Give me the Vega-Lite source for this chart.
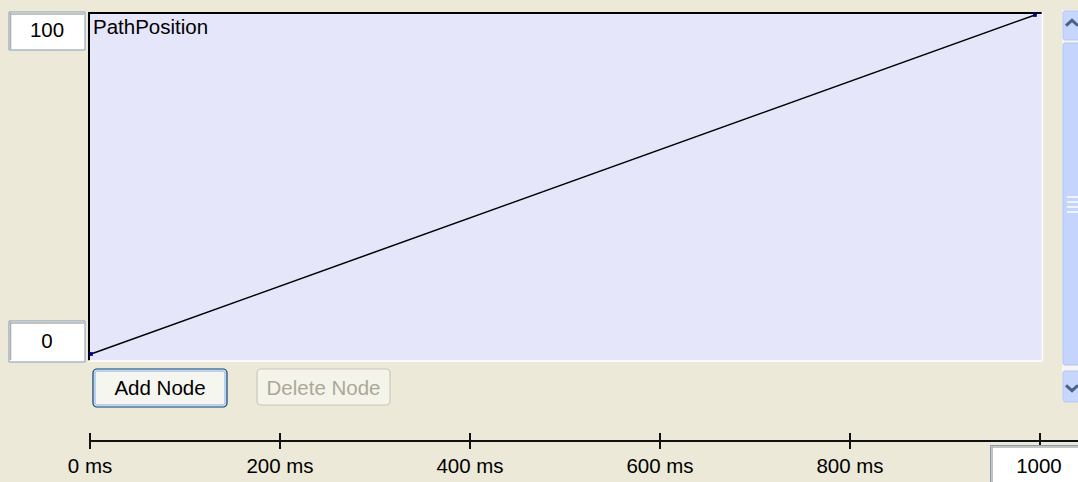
{
  "$schema": "https://vega.github.io/schema/vega-lite/v6.json",
  "width": 1078,
  "height": 482,
  "autosize": {"type": "none"},
  "padding": 0,
  "background": "#ECE9D8",
  "config": {
    "view": {"stroke": null},
    "axis": {"disable": true},
    "text": {"font": "Liberation Sans", "fontSize": 20.5, "color": "#000000"}
  },
  "resolve": {"scale": {"x": "independent"}},
  "layer": [
    {
      "data": {"values": [{"widget": "curve editor"}]},
      "layer": [
        {"mark": {"type": "rect", "fill": "#E6E6FA"},
         "encoding": {"x": {"datum": -2.105, "type": "quantitative", "scale": {"domain": [-94.74, 1040], "nice": false, "zero": false}, "axis": null}, "x2": {"datum": 1002.1},
                      "y": {"datum": 100.88, "type": "quantitative", "scale": {"domain": [-37.76, 104.42], "nice": false, "zero": false}, "axis": null}, "y2": {"datum": -2.065}}},
        {"mark": {"type": "rule", "color": "#000000", "strokeWidth": 2},
         "encoding": {"x": {"datum": -1.053, "type": "quantitative"}, "x2": {"datum": 1002.1}, "y": {"datum": 100.59, "type": "quantitative"}}},
        {"mark": {"type": "rule", "color": "#000000", "strokeWidth": 2},
         "encoding": {"x": {"datum": -1.053, "type": "quantitative"}, "y": {"datum": 100.88, "type": "quantitative"}, "y2": {"datum": -2.065}}},
        {"mark": {"type": "rule", "color": "#FFFFFF", "strokeWidth": 1.5},
         "encoding": {"x": {"datum": 1002.6, "type": "quantitative"}, "y": {"datum": 100.88, "type": "quantitative"}, "y2": {"datum": -2.065}}},
        {"mark": {"type": "rule", "color": "#FFFFFF", "strokeWidth": 1.5},
         "encoding": {"x": {"datum": -2.105, "type": "quantitative"}, "x2": {"datum": 1002.6}, "y": {"datum": -2.065, "type": "quantitative"}}},
        {"mark": {"type": "text", "align": "left", "baseline": "alphabetic", "text": "PathPosition"},
         "encoding": {"x": {"datum": 3.158, "type": "quantitative"}, "y": {"datum": 94.4, "type": "quantitative"}}},

        {"mark": {"type": "rect", "fill": "#FFFFFF", "stroke": "#7F9DB9", "strokeWidth": 1},
         "encoding": {"x": {"datum": -85.26, "type": "quantitative"}, "x2": {"datum": -5.263}, "y": {"datum": 100.88, "type": "quantitative"}, "y2": {"datum": 89.68}}},
        {"mark": {"type": "rule", "color": "#B0AFA8", "strokeWidth": 1.5},
         "encoding": {"x": {"datum": -84.21, "type": "quantitative"}, "x2": {"datum": -6.316}, "y": {"datum": 100.29, "type": "quantitative"}}},
        {"mark": {"type": "rule", "color": "#B0AFA8", "strokeWidth": 1.5},
         "encoding": {"x": {"datum": -83.68, "type": "quantitative"}, "y": {"datum": 100.59, "type": "quantitative"}, "y2": {"datum": 89.97}}},
        {"mark": {"type": "text", "align": "center", "baseline": "middle", "text": "100"},
         "encoding": {"x": {"datum": -45.26, "type": "quantitative"}, "y": {"datum": 95.28, "type": "quantitative"}}},

        {"mark": {"type": "rect", "fill": "#FFFFFF", "stroke": "#7F9DB9", "strokeWidth": 1},
         "encoding": {"x": {"datum": -85.26, "type": "quantitative"}, "x2": {"datum": -5.263}, "y": {"datum": 9.735, "type": "quantitative"}, "y2": {"datum": -2.36}}},
        {"mark": {"type": "rule", "color": "#B0AFA8", "strokeWidth": 1.5},
         "encoding": {"x": {"datum": -84.21, "type": "quantitative"}, "x2": {"datum": -6.316}, "y": {"datum": 9.14, "type": "quantitative"}}},
        {"mark": {"type": "rule", "color": "#B0AFA8", "strokeWidth": 1.5},
         "encoding": {"x": {"datum": -83.68, "type": "quantitative"}, "y": {"datum": 9.44, "type": "quantitative"}, "y2": {"datum": -1.77}}},
        {"mark": {"type": "text", "align": "center", "baseline": "middle", "text": "0"},
         "encoding": {"x": {"datum": -45.26, "type": "quantitative"}, "y": {"datum": 3.54, "type": "quantitative"}}},

        {"mark": {"type": "rect", "fill": "#F6F6F1", "stroke": "#003C74", "strokeWidth": 1.2, "cornerRadius": 4},
         "encoding": {"x": {"datum": 3.158, "type": "quantitative"}, "x2": {"datum": 144.2}, "y": {"datum": -4.425, "type": "quantitative"}, "y2": {"datum": -15.63}}},
        {"mark": {"type": "rect", "fill": null, "stroke": "#A9C4EE", "strokeWidth": 1.5, "cornerRadius": 2},
         "encoding": {"x": {"datum": 5.263, "type": "quantitative"}, "x2": {"datum": 142.1}, "y": {"datum": -5.015, "type": "quantitative"}, "y2": {"datum": -15.04}}},
        {"mark": {"type": "text", "align": "center", "baseline": "middle", "text": "Add Node"},
         "encoding": {"x": {"datum": 73.68, "type": "quantitative"}, "y": {"datum": -10.32, "type": "quantitative"}}},

        {"mark": {"type": "rect", "fill": "#F5F4EA", "stroke": "#C9C7BA", "strokeWidth": 1.2, "cornerRadius": 4},
         "encoding": {"x": {"datum": 175.8, "type": "quantitative"}, "x2": {"datum": 315.8}, "y": {"datum": -4.425, "type": "quantitative"}, "y2": {"datum": -15.04}}},
        {"mark": {"type": "text", "align": "center", "baseline": "middle", "text": "Delete Node", "color": "#ACA899"},
         "encoding": {"x": {"datum": 245.8, "type": "quantitative"}, "y": {"datum": -10.32, "type": "quantitative"}}},

        {"mark": {"type": "rule", "color": "#111111", "strokeWidth": 2},
         "encoding": {"x": {"datum": 0, "type": "quantitative"}, "x2": {"datum": 1045}, "y": {"datum": -25.66, "type": "quantitative"}}},
        {"data": {"values": [{"ms": 0, "label": "0 ms"}, {"ms": 200, "label": "200 ms"}, {"ms": 400, "label": "400 ms"}, {"ms": 600, "label": "600 ms"}, {"ms": 800, "label": "800 ms"}, {"ms": 1000, "label": "1000 ms"}]},
         "layer": [
           {"mark": {"type": "rule", "color": "#111111", "strokeWidth": 2},
            "encoding": {"x": {"field": "ms", "type": "quantitative"}, "y": {"datum": -23.3, "type": "quantitative"}, "y2": {"datum": -28.02}}},
           {"transform": [{"filter": "datum.ms < 1000"}],
            "mark": {"type": "text", "align": "center", "baseline": "alphabetic"},
            "encoding": {"x": {"field": "ms", "type": "quantitative"}, "y": {"datum": -35.1, "type": "quantitative"}, "text": {"field": "label"}}}
         ]},

        {"mark": {"type": "rect", "fill": "#FFFFFF"},
         "encoding": {"x": {"datum": 947.4, "type": "quantitative"}, "x2": {"datum": 1050}, "y": {"datum": -26.84, "type": "quantitative"}, "y2": {"datum": -40}}},
        {"mark": {"type": "rule", "color": "#7F9DB9", "strokeWidth": 1},
         "encoding": {"x": {"datum": 947.4, "type": "quantitative"}, "x2": {"datum": 1050}, "y": {"datum": -26.99, "type": "quantitative"}}},
        {"mark": {"type": "rule", "color": "#7F9DB9", "strokeWidth": 1},
         "encoding": {"x": {"datum": 947.9, "type": "quantitative"}, "y": {"datum": -26.84, "type": "quantitative"}, "y2": {"datum": -40}}},
        {"mark": {"type": "rule", "color": "#B0AFA8", "strokeWidth": 1.5},
         "encoding": {"x": {"datum": 948.9, "type": "quantitative"}, "x2": {"datum": 1050}, "y": {"datum": -27.43, "type": "quantitative"}}},
        {"mark": {"type": "rule", "color": "#B0AFA8", "strokeWidth": 1.5},
         "encoding": {"x": {"datum": 949.5, "type": "quantitative"}, "y": {"datum": -27.29, "type": "quantitative"}, "y2": {"datum": -40}}},
        {"mark": {"type": "text", "align": "center", "baseline": "alphabetic", "text": "1000"},
         "encoding": {"x": {"datum": 998.9, "type": "quantitative"}, "y": {"datum": -35.1, "type": "quantitative"}}},

        {"mark": {"type": "rect", "fill": "#F7F6F1"},
         "encoding": {"x": {"datum": 1023.2, "type": "quantitative"}, "x2": {"datum": 1050}, "y": {"datum": 101.47, "type": "quantitative"}, "y2": {"datum": -14.16}}},
        {"mark": {"type": "rect", "fill": "#C6D6FC", "stroke": "#B4C7F5", "strokeWidth": 1, "cornerRadius": 2},
         "encoding": {"x": {"datum": 1024.2, "type": "quantitative"}, "x2": {"datum": 1050}, "y": {"datum": 101.18, "type": "quantitative"}, "y2": {"datum": 92.63}}},
        {"mark": {"type": "rect", "fill": "#C4D4FC", "stroke": "#AFC4F5", "strokeWidth": 1, "cornerRadius": 2},
         "encoding": {"x": {"datum": 1024.2, "type": "quantitative"}, "x2": {"datum": 1050}, "y": {"datum": 91.74, "type": "quantitative"}, "y2": {"datum": -3.245}}},
        {"mark": {"type": "rect", "fill": "#C6D6FC", "stroke": "#B4C7F5", "strokeWidth": 1, "cornerRadius": 2},
         "encoding": {"x": {"datum": 1024.2, "type": "quantitative"}, "x2": {"datum": 1050}, "y": {"datum": -5.015, "type": "quantitative"}, "y2": {"datum": -14.16}}},
        {"mark": {"type": "rule", "color": "#FFFFFF", "strokeWidth": 1.5},
         "encoding": {"x": {"datum": 1028.4, "type": "quantitative"}, "x2": {"datum": 1045}, "y": {"datum": 46.31, "type": "quantitative"}}},
        {"mark": {"type": "rule", "color": "#FFFFFF", "strokeWidth": 1.5},
         "encoding": {"x": {"datum": 1028.4, "type": "quantitative"}, "x2": {"datum": 1045}, "y": {"datum": 44.84, "type": "quantitative"}}},
        {"mark": {"type": "rule", "color": "#FFFFFF", "strokeWidth": 1.5},
         "encoding": {"x": {"datum": 1028.4, "type": "quantitative"}, "x2": {"datum": 1045}, "y": {"datum": 43.36, "type": "quantitative"}}},
        {"mark": {"type": "rule", "color": "#FFFFFF", "strokeWidth": 1.5},
         "encoding": {"x": {"datum": 1028.4, "type": "quantitative"}, "x2": {"datum": 1045}, "y": {"datum": 41.89, "type": "quantitative"}}},
        {"mark": {"type": "point", "shape": "M-1,0.45L0,-0.45L1,0.45", "filled": false, "stroke": "#4D6185", "strokeWidth": 3, "size": 144, "opacity": 1},
         "encoding": {"x": {"datum": 1033.7, "type": "quantitative"}, "y": {"datum": 97.64, "type": "quantitative"}}},
        {"mark": {"type": "point", "shape": "M-1,-0.45L0,0.45L1,-0.45", "filled": false, "stroke": "#4D6185", "strokeWidth": 3, "size": 144, "opacity": 1},
         "encoding": {"x": {"datum": 1033.7, "type": "quantitative"}, "y": {"datum": -10.03, "type": "quantitative"}}}
      ]
    },
    {
      "data": {"values": [{"time": 0, "position": 0}, {"time": 1000, "position": 100}]},
      "layer": [
        {"mark": {"type": "line", "color": "#000000", "strokeWidth": 1.5},
         "encoding": {"x": {"field": "time", "type": "quantitative", "scale": {"domain": [-96.4, 1045.6], "nice": false, "zero": false}, "axis": null},
                      "y": {"field": "position", "type": "quantitative", "axis": null}}},
        {"mark": {"type": "point", "shape": "square", "filled": true, "color": "#00007F", "size": 14, "opacity": 1},
         "encoding": {"x": {"field": "time", "type": "quantitative"},
                      "y": {"field": "position", "type": "quantitative"}}}
      ]
    }
  ]
}
